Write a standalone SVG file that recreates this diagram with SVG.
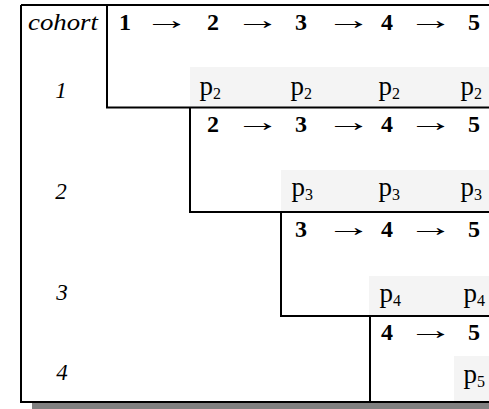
<svg xmlns="http://www.w3.org/2000/svg" width="489" height="409" viewBox="0 0 489 409">
<style>
text{font-family:"Liberation Serif","Times New Roman",serif;fill:#000}
.h{font-weight:bold;font-size:24px;text-anchor:middle}
.a{font-size:27px;text-anchor:middle}
.i{font-style:italic;font-size:23px}
.il{font-style:italic;font-size:23px;text-anchor:middle}
.p{font-size:27px;text-anchor:end}
.s{font-size:16px}
.band{fill:#f4f4f4}
.ln{stroke:#000;stroke-width:2;fill:none}
</style>
<defs>
<text id="arr" class="a" x="0" y="0">→</text>
</defs>
<rect width="489" height="409" fill="#fff"/>
<rect x="32" y="403" width="457" height="6" fill="#808080"/>
<g id="bands">
<rect class="band" x="190" y="67" width="299" height="40"/>
<rect class="band" x="281" y="170" width="208" height="42"/>
<rect class="band" x="369" y="276" width="120" height="40"/>
<rect class="band" x="454" y="356" width="35" height="46"/>
</g>
<g id="connectors">
<path class="ln" d="M21 5H489M21 5V403M20 402H489"/>
<path class="ln" d="M107 5V107.5H489"/>
<path class="ln" d="M190 107.5V212H489"/>
<path class="ln" d="M281 212V316H489"/>
<path class="ln" d="M370 316V402"/>
</g>
<g id="header">
<text class="i" x="28" y="30" textLength="70" lengthAdjust="spacingAndGlyphs">cohort</text>
</g>
<g id="cohort1">
<text class="il" x="61" y="98">1</text>
<text class="h" x="125" y="30">1</text>
<use href="#arr" transform="translate(167,29) scale(1.7,1)"/>
<text class="h" x="213" y="30">2</text>
<use href="#arr" transform="translate(258,29) scale(1.7,1)"/>
<text class="h" x="301" y="30">3</text>
<use href="#arr" transform="translate(349,29) scale(1.7,1)"/>
<text class="h" x="387" y="30">4</text>
<use href="#arr" transform="translate(431,29) scale(1.7,1)"/>
<text class="h" x="474" y="30">5</text>
<text class="p" x="221" y="95">p<tspan class="s" dy="4">2</tspan></text>
<text class="p" x="312" y="95">p<tspan class="s" dy="4">2</tspan></text>
<text class="p" x="400" y="95">p<tspan class="s" dy="4">2</tspan></text>
<text class="p" x="482" y="95">p<tspan class="s" dy="4">2</tspan></text>
</g>
<g id="cohort2">
<text class="il" x="61" y="199">2</text>
<text class="h" x="213" y="132">2</text>
<use href="#arr" transform="translate(258,131) scale(1.7,1)"/>
<text class="h" x="301" y="132">3</text>
<use href="#arr" transform="translate(349,131) scale(1.7,1)"/>
<text class="h" x="387" y="132">4</text>
<use href="#arr" transform="translate(431,131) scale(1.7,1)"/>
<text class="h" x="474" y="132">5</text>
<text class="p" x="313" y="196">p<tspan class="s" dy="4">3</tspan></text>
<text class="p" x="400" y="196">p<tspan class="s" dy="4">3</tspan></text>
<text class="p" x="482" y="196">p<tspan class="s" dy="4">3</tspan></text>
</g>
<g id="cohort3">
<text class="il" x="62" y="300">3</text>
<text class="h" x="301" y="237">3</text>
<use href="#arr" transform="translate(349,236) scale(1.7,1)"/>
<text class="h" x="387" y="237">4</text>
<use href="#arr" transform="translate(431,236) scale(1.7,1)"/>
<text class="h" x="474" y="237">5</text>
<text class="p" x="401" y="302">p<tspan class="s" dy="4">4</tspan></text>
<text class="p" x="485" y="302">p<tspan class="s" dy="4">4</tspan></text>
</g>
<g id="cohort4">
<text class="il" x="62" y="380">4</text>
<text class="h" x="387" y="340">4</text>
<use href="#arr" transform="translate(431,339) scale(1.7,1)"/>
<text class="h" x="474" y="340">5</text>
<text class="p" x="485" y="383">p<tspan class="s" dy="4">5</tspan></text>
</g>
</svg>
